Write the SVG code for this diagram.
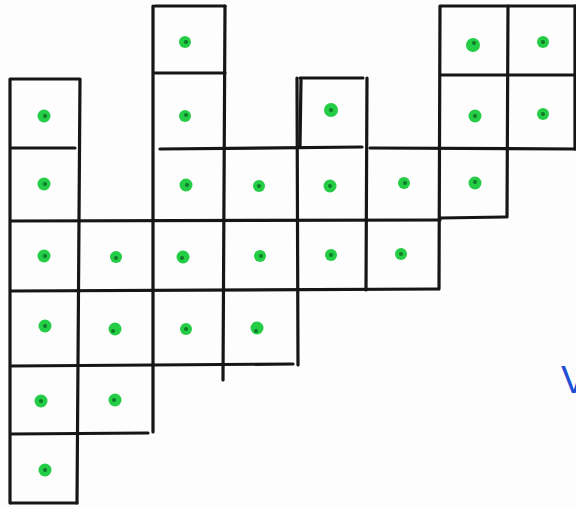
<svg xmlns="http://www.w3.org/2000/svg" width="576" height="508" viewBox="0 0 576 508">
<style>
.g line{stroke:#161616;stroke-width:3.2;stroke-linecap:round}
.d circle.o{fill:#25cc45}
.d circle.i{fill:#0f7a2a}
</style>
<rect width="576" height="508" fill="#fdfdfd"/>
<g id="grid" class="g">
<line x1="155" y1="6" x2="225" y2="6"/>
<line x1="155" y1="73" x2="225" y2="73"/>
<line x1="441" y1="6" x2="576" y2="6"/>
<line x1="441" y1="75" x2="576" y2="75"/>
<line x1="11" y1="79" x2="79" y2="79"/>
<line x1="300" y1="78" x2="363" y2="78"/>
<line x1="11" y1="148" x2="75" y2="148"/>
<line x1="160" y1="149" x2="362" y2="147"/>
<line x1="370" y1="148" x2="576" y2="149"/>
<line x1="11" y1="221" x2="440" y2="220"/>
<line x1="440" y1="218" x2="505" y2="217"/>
<line x1="11" y1="291" x2="438" y2="289"/>
<line x1="11" y1="366" x2="293" y2="364"/>
<line x1="11" y1="434" x2="148" y2="433"/>
<line x1="11" y1="503" x2="77" y2="503"/>
<line x1="10" y1="79" x2="10" y2="503"/>
<line x1="80" y1="79" x2="77" y2="503"/>
<line x1="153" y1="6" x2="153" y2="432"/>
<line x1="225" y1="6" x2="223" y2="380"/>
<line x1="297" y1="78" x2="298" y2="365"/>
<line x1="301" y1="80" x2="300" y2="146"/>
<line x1="367" y1="78" x2="366" y2="290"/>
<line x1="440" y1="6" x2="439" y2="289"/>
<line x1="508" y1="6" x2="507" y2="217"/>
<line x1="575" y1="6" x2="575" y2="149"/>
</g>
<g id="dots" class="d">
<circle class="o" cx="44" cy="116" r="6.5"/><circle class="i" cx="45" cy="116" r="2"/>
<circle class="o" cx="44" cy="184" r="6.5"/><circle class="i" cx="45" cy="184" r="2"/>
<circle class="o" cx="44" cy="256" r="6.5"/><circle class="i" cx="45" cy="256" r="2"/>
<circle class="o" cx="45" cy="326" r="6.5"/><circle class="i" cx="45" cy="326" r="2"/>
<circle class="o" cx="41" cy="401" r="6.5"/><circle class="i" cx="41" cy="401" r="2"/>
<circle class="o" cx="45" cy="470" r="6.5"/><circle class="i" cx="45" cy="470" r="2"/>
<circle class="o" cx="116" cy="257" r="6"/><circle class="i" cx="116" cy="258" r="2"/>
<circle class="o" cx="115" cy="329" r="6.5"/><circle class="i" cx="113" cy="331" r="2"/>
<circle class="o" cx="115" cy="400" r="6.5"/><circle class="i" cx="114" cy="400" r="2"/>
<circle class="o" cx="185" cy="42" r="6"/><circle class="i" cx="186" cy="42" r="2"/>
<circle class="o" cx="185" cy="116" r="6"/><circle class="i" cx="186" cy="115" r="2"/>
<circle class="o" cx="186" cy="185" r="6.5"/><circle class="i" cx="187" cy="185" r="2"/>
<circle class="o" cx="183" cy="257" r="6.5"/><circle class="i" cx="182" cy="258" r="2"/>
<circle class="o" cx="186" cy="329" r="6"/><circle class="i" cx="186" cy="329" r="2"/>
<circle class="o" cx="259" cy="186" r="6"/><circle class="i" cx="259" cy="186" r="2"/>
<circle class="o" cx="260" cy="256" r="6"/><circle class="i" cx="261" cy="256" r="2"/>
<circle class="o" cx="257" cy="328" r="6.5"/><circle class="i" cx="256" cy="331" r="2"/>
<circle class="o" cx="331" cy="110" r="7"/><circle class="i" cx="331" cy="110" r="2"/>
<circle class="o" cx="330" cy="186" r="6.5"/><circle class="i" cx="330" cy="186" r="2"/>
<circle class="o" cx="331" cy="255" r="6"/><circle class="i" cx="331" cy="255" r="2"/>
<circle class="o" cx="404" cy="183" r="6"/><circle class="i" cx="405" cy="183" r="2"/>
<circle class="o" cx="401" cy="254" r="6"/><circle class="i" cx="401" cy="254" r="2"/>
<circle class="o" cx="473" cy="45" r="7"/><circle class="i" cx="474" cy="43" r="2"/>
<circle class="o" cx="475" cy="116" r="6.5"/><circle class="i" cx="475" cy="116" r="2"/>
<circle class="o" cx="475" cy="183" r="6.5"/><circle class="i" cx="475" cy="182" r="2"/>
<circle class="o" cx="543" cy="42" r="6"/><circle class="i" cx="543" cy="42" r="2"/>
<circle class="o" cx="543" cy="114" r="6"/><circle class="i" cx="543" cy="114" r="2"/>
</g>
<text id="label" x="561" y="393" font-family="Liberation Sans, sans-serif" font-size="38" fill="#1f4fd6">V</text>
</svg>
